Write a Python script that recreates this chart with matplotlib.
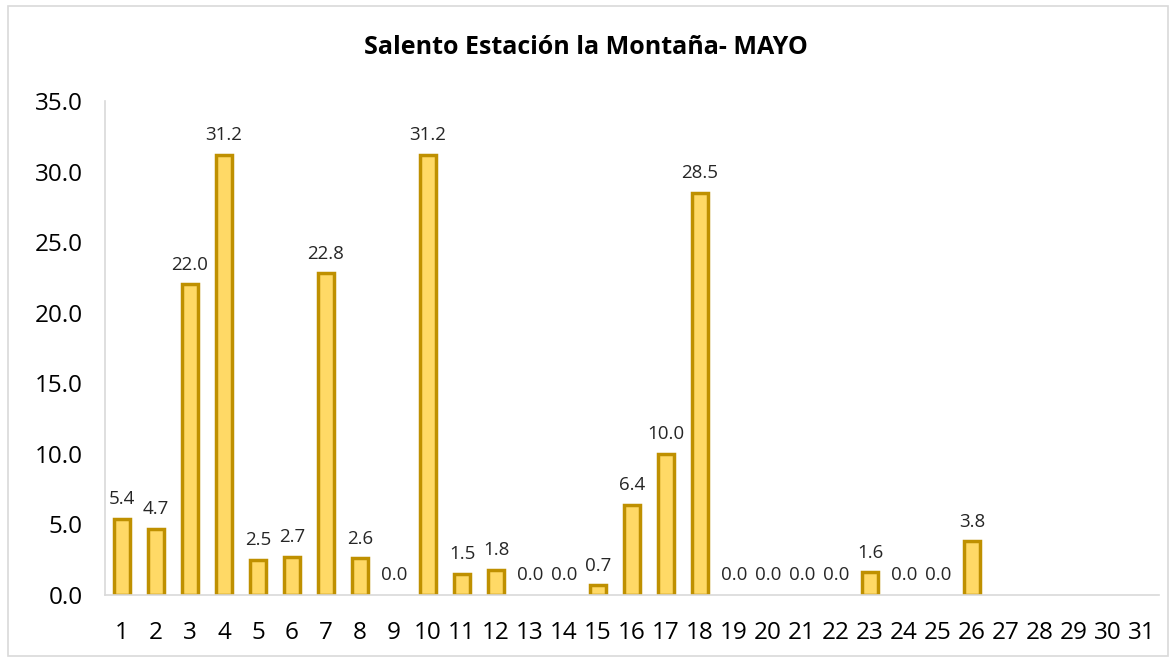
import numpy as np
import matplotlib.pyplot as plt
from matplotlib.patches import Rectangle

days = [str(d) for d in range(1, 32)]
values = [5.4, 4.7, 22.0, 31.2, 2.5, 2.7, 22.8, 2.6, 0.0, 31.2,
          1.5, 1.8, 0.0, 0.0, 0.7, 6.4, 10.0, 28.5, 0.0, 0.0,
          0.0, 0.0, 1.6, 0.0, 0.0, 3.8, None, None, None, None, None]
yticks = [0, 5, 10, 15, 20, 25, 30, 35]

plt.rcParams['font.family'] = ['Open Sans', 'DejaVu Sans']

fig = plt.figure(figsize=(11.72, 6.6), dpi=100)
fig.patches.append(Rectangle((8 / 1172, 4 / 660), 1160 / 1172, 650 / 660,
                             transform=fig.transFigure, fill=False,
                             edgecolor='#d9d9d9', linewidth=1.2))
ax = fig.add_axes([105 / 1172, 65 / 660, 1054 / 1172, 494 / 660])

x = np.arange(len(days))
# zero days draw no visible bar, like in the original sheet
bx = [xi for xi, v in zip(x, values) if v]
bh = [v for v in values if v]
ax.bar(bx, bh, width=0.46, color='#FFD966', edgecolor='#BF9000', linewidth=2.5)
for xi, v in zip(x, values):
    if v is None:
        continue
    ax.text(xi, v + 0.75, '%.1f' % v, ha='center', va='bottom',
            fontsize=13.5, color='#262626')

ax.set_xlim(-0.5, len(days) - 0.5)
ax.set_ylim(0, 35)
ax.set_xticks(x)
ax.set_xticklabels(days, fontsize=17.5)
ax.set_yticks(yticks)
ax.set_yticklabels(['%.1f' % t for t in yticks], fontsize=17.5)
ax.tick_params(length=0, pad=19)
ax.tick_params(axis='y', pad=16)
for s in ['top', 'right']:
    ax.spines[s].set_visible(False)
for s in ['left', 'bottom']:
    ax.spines[s].set_color('#d9d9d9')
    ax.spines[s].set_linewidth(1.2)

fig.text(0.5, 612 / 660, 'Salento Estación la Montaña- MAYO', ha='center',
         va='center', fontsize=18, fontweight='bold', color='#000000')

plt.savefig('out.png')
